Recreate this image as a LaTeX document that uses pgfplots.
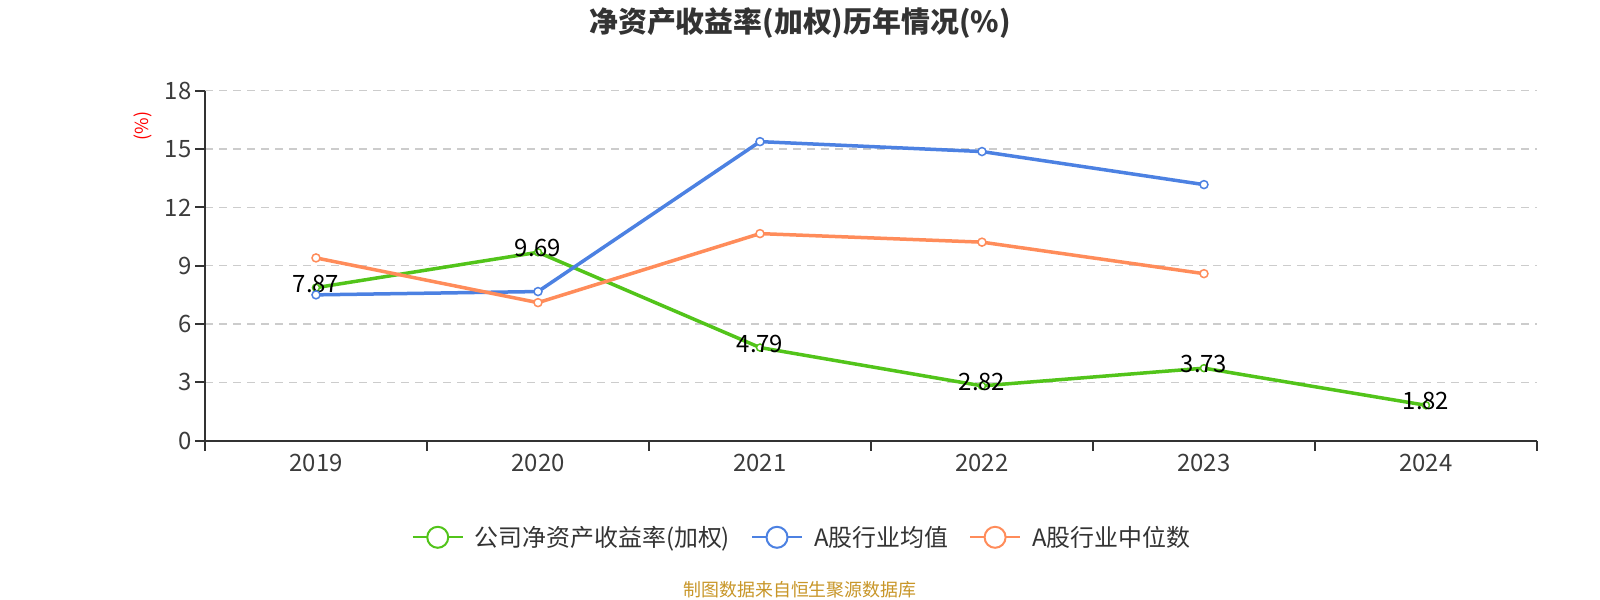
\documentclass[border=0pt]{standalone}
\usepackage{pgfplots}
\pgfplotsset{compat=1.18}
\usepackage{fontspec}
\setmainfont{Noto Sans CJK SC}
\definecolor{cgreen}{RGB}{82,196,26}
\definecolor{cblue}{RGB}{76,129,226}
\definecolor{corange}{RGB}{255,140,90}
\definecolor{axisgray}{RGB}{51,51,51}
\definecolor{textgray}{RGB}{51,51,51}
\definecolor{ticklabelgray}{RGB}{60,60,60}
\definecolor{gridgray}{RGB}{204,204,204}
\definecolor{srcgold}{RGB}{200,150,40}
\begin{document}
\begin{tikzpicture}[x=1bp,y=1bp]
\path[use as bounding box] (0,0) rectangle (1600,600);
\fill[white] (0,0) rectangle (1600,600);
\begin{axis}[
  at={(205bp,159.3bp)}, anchor=south west,
  width=1332bp, height=350bp, scale only axis,
  xmin=-0.5, xmax=5.5, ymin=0, ymax=18,
  axis x line*=bottom, axis y line*=left,
  axis line style={-, draw=axisgray, line width=2bp},
  xtick={-0.5,0.5,1.5,2.5,3.5,4.5,5.5},
  x tick label as interval,
  xticklabels={2019,2020,2021,2022,2023,2024},
  ytick={0,3,6,9,12,15,18},
  tick align=outside,
  major tick length=10bp,
  tick style={draw=axisgray, line width=2bp},
  ymajorgrids,
  grid style={gridgray, dash pattern=on 8bp off 6bp, line width=1.5bp},
  /pgf/number format/assume math mode=true,
  ticklabel style={font=\fontsize{24}{24}\selectfont, text=ticklabelgray},
  clip=false,
  legend columns=3,
  legend style={at={(0.4474,-0.276)}, anchor=center, draw=none, fill=none,
    font=\fontsize{24}{24}\selectfont, text=textgray,
    inner sep=0pt, nodes={inner sep=0pt},
    /tikz/every odd column/.append style={column sep=11bp},
    /tikz/every even column/.append style={column sep=21bp}},
  legend image code/.code={
    \draw[line width=2bp] (0bp,0bp) -- (50bp,0bp);
    \draw[line width=2bp, fill=white] (25bp,0bp) circle (10.5bp);
  },
]
\addplot[cgreen, line width=3.5bp, mark=*, mark size=3.5bp,
  mark options={fill=white, draw=cgreen, line width=1.5bp},
  nodes near coords, point meta=explicit symbolic,
  every node near coord/.append style={anchor=center, yshift=4bp, text=black,
    font=\fontsize{24}{24}\selectfont}]
  coordinates {(0,7.87)[7.87] (1,9.69)[9.69] (2,4.79)[4.79] (3,2.82)[2.82] (4,3.73)[3.73] (5,1.82)[1.82]};
\addlegendentry{公司净资产收益率(加权)}
\addplot[cblue, line width=3.5bp, mark=*, mark size=4bp,
  mark options={fill=white, draw=cblue, line width=1.5bp}]
  coordinates {(0,7.50) (1,7.67) (2,15.38) (3,14.87) (4,13.17)};
\addlegendentry{A股行业均值}
\addplot[corange, line width=3.5bp, mark=*, mark size=4bp,
  mark options={fill=white, draw=corange, line width=1.5bp}]
  coordinates {(0,9.40) (1,7.10) (2,10.65) (3,10.21) (4,8.59)};
\addlegendentry{A股行业中位数}
\end{axis}
\node[font=\fontsize{29}{29}\selectfont\bfseries, text=textgray] at (800,577) {净资产收益率(加权)历年情况(\%)};
\node[rotate=90, font=\fontsize{18}{18}\selectfont, text=red] at (143,474) {(\%)};
\node[font=\fontsize{18}{18}\selectfont, text=srcgold] at (800,10) {制图数据来自恒生聚源数据库};
\end{tikzpicture}
\end{document}
